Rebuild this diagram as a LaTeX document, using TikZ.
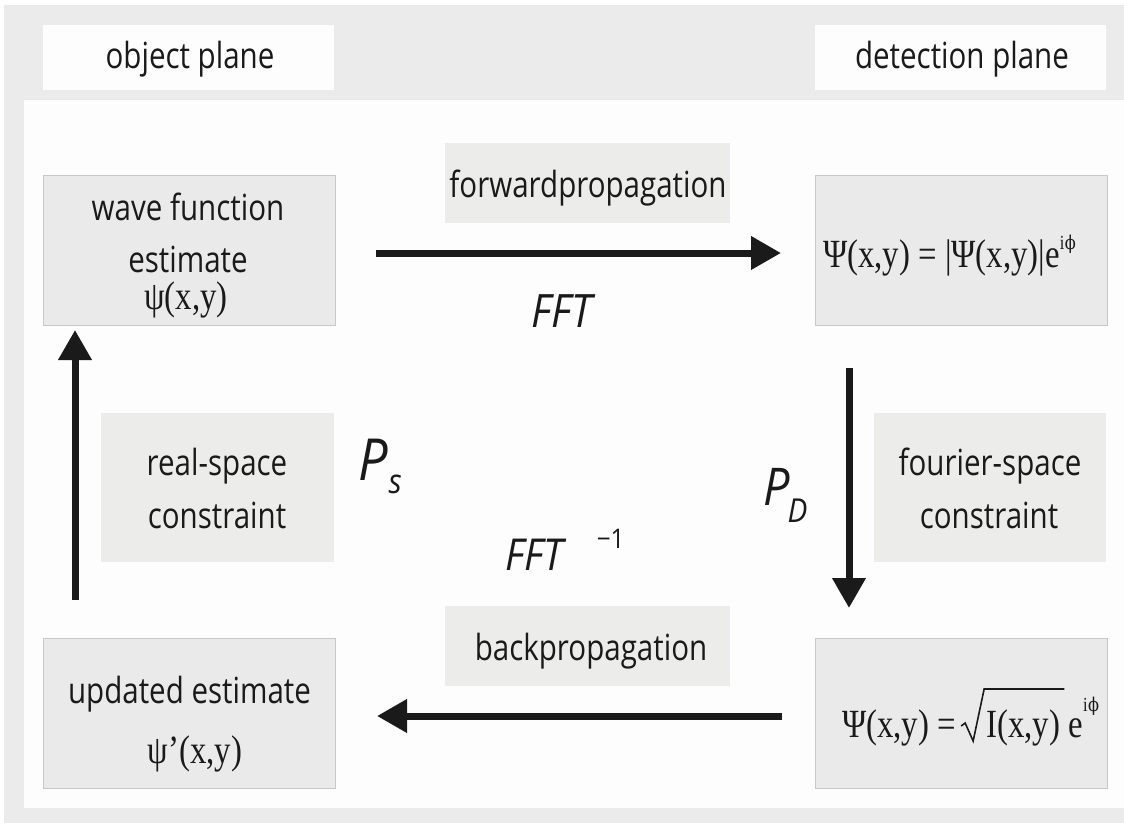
\documentclass[tikz,border=0pt]{standalone}
\usepackage{fontspec}
\usetikzlibrary{arrows.meta,calc}
\newfontfamily\lblfont[FakeStretch=0.82]{Open Sans}
\newfontfamily\frmfont[FakeStretch=0.82]{Liberation Serif}
\newfontfamily\phifont[FakeStretch=0.85]{DejaVu Serif}
\newfontfamily\itfont[FakeStretch=0.9]{Open Sans}
\definecolor{outerbg}{HTML}{EBEBEB}
\definecolor{panel}{HTML}{FDFDFD}
\definecolor{boxfill}{HTML}{EAEAEA}
\definecolor{boxdraw}{HTML}{C8C8C8}
\definecolor{lblfill}{HTML}{ECEDEB}
\definecolor{ink}{HTML}{1A1A1A}
\newcommand{\supr}[1]{\raisebox{#1}{\fontsize{20}{20}\selectfont i\kern0.5pt{\phifont\fontsize{19}{19}\selectfont ϕ}}}
\begin{document}
\begin{tikzpicture}[x=1pt,y=-1pt,
  hdr/.style={fill=panel,draw=none,minimum width=291pt,minimum height=65pt,inner sep=0pt},
  gbox/.style={fill=boxfill,draw=boxdraw,line width=1pt,minimum width=292pt,minimum height=150pt,inner sep=0pt},
  lbox/.style={fill=lblfill,draw=none,inner sep=0pt},
  txt/.style={font=\lblfont\fontsize{36}{36}\selectfont,text=ink,inner sep=0pt,anchor=base},
  frm/.style={font=\frmfont\fontsize{40}{40}\selectfont,text=ink,inner sep=0pt,anchor=base west},
  itl/.style={text=ink,inner sep=0pt,anchor=base west},
  arr/.style={line width=7pt,draw=ink,-{Triangle[length=30pt,width=32pt]}}
]
\useasboundingbox (0,0) rectangle (1124,825);
\fill[white] (0,0) rectangle (1124,825);
\fill[outerbg] (4,5) rectangle (1124,823);
\fill[panel] (24,100) rectangle (1124,808);

% header boxes
\node[hdr] (objbox) at (188.5,57.5) {};
\node[hdr] (detbox) at (960,57.5) {};
\node[txt] (objtxt) at (190,68) {object plane};
\node[txt] (dettxt) at (962,68) {detection plane};

% main boxes
\node[gbox] (wave) at (189,250) {};
\node[gbox] (fwd) at (961,250) {};
\node[gbox] (upd) at (189,713) {};
\node[gbox] (bwd) at (961,713) {};

% label boxes
\node[lbox,minimum width=285pt,minimum height=80pt] (fwdlbl) at (587.5,183) {};
\node[lbox,minimum width=285pt,minimum height=80pt] (bwdlbl) at (587.5,646) {};
\node[lbox,minimum width=233pt,minimum height=149pt] (reallbl) at (217.5,487.5) {};
\node[lbox,minimum width=232pt,minimum height=149pt] (fourlbl) at (990,487.5) {};

% texts in boxes
\node[txt] (wave1) at (188,220) {wave function};
\node[txt] (wave2) at (188,272) {estimate};
\node[txt,font=\frmfont\fontsize{40}{40}\selectfont] (wave3) at (186,309) {ψ(x,y)};
\node[txt] (upd1) at (189.5,703) {updated estimate};
\node[txt,font=\frmfont\fontsize{40}{40}\selectfont] (upd2) at (195,763) {ψ’(x,y)};
\node[txt] (fwdtxt) at (588,197) {forwardpropagation};
\node[txt] (bwdtxt) at (591,660) {backpropagation};
\node[txt] (real1) at (217,475) {real-space};
\node[txt] (real2) at (217,528) {constraint};
\node[txt] (four1) at (990,475) {fourier-space};
\node[txt] (four2) at (989,528) {constraint};

% formulas
\node[frm] (f1) at (823,267) {Ψ(x,y) = |Ψ(x,y)|e\supr{18pt}};
\node[frm] (f2a) at (842,737) {Ψ(x,y) =};
\node[frm] (f2b) at ($(f2a.base east)+(30,0)$) {I(x,y)};
\node[frm] (f2c) at ($(f2b.base east)+(8,0)$) {e\supr{26pt}};
\draw[ink,line width=1.6pt,line join=miter]
  ($(f2b.base west)+(-25,-11)$) -- ($(f2b.base west)+(-21,-14)$)
  -- ($(f2b.base west)+(-13,4)$) -- ($(f2b.base west)+(-2,-48)$)
  -- ($(f2b.base east)+(4,-48)$);

% italic labels
\node[itl,font=\itfont\itshape\fontsize{46}{46}\selectfont,anchor=base] (fft) at (562,327) {FFT};
\node[itl,font=\itfont\itshape\fontsize{44}{44}\selectfont] (ifft) at (505,570)
  {FFT\hspace{34pt}\raisebox{22pt}{\upshape\fontsize{27}{27}\selectfont −1}};
\node[itl,font=\itfont\itshape\fontsize{58}{58}\selectfont] (ps) at (358,480)
  {P\hspace{1pt}\raisebox{-13pt}{\fontsize{34}{34}\selectfont s}};
\node[itl,font=\itfont\itshape\fontsize{52}{52}\selectfont] (pd) at (763,505)
  {P\hspace{-2pt}\raisebox{-17pt}{\fontsize{33}{33}\selectfont D}};

% arrows
\coordinate (a1s) at (376,253); \coordinate (a1e) at (781,253);
\coordinate (a2s) at (849,368); \coordinate (a2e) at (849,608);
\coordinate (a3s) at (782,716); \coordinate (a3e) at (377,716);
\coordinate (a4s) at (75,600);  \coordinate (a4e) at (75,330);
\draw[arr] (a1s) -- (a1e);
\draw[arr] (a2s) -- (a2e);
\draw[arr] (a3s) -- (a3e);
\draw[arr] (a4s) -- (a4e);
\end{tikzpicture}
\end{document}
